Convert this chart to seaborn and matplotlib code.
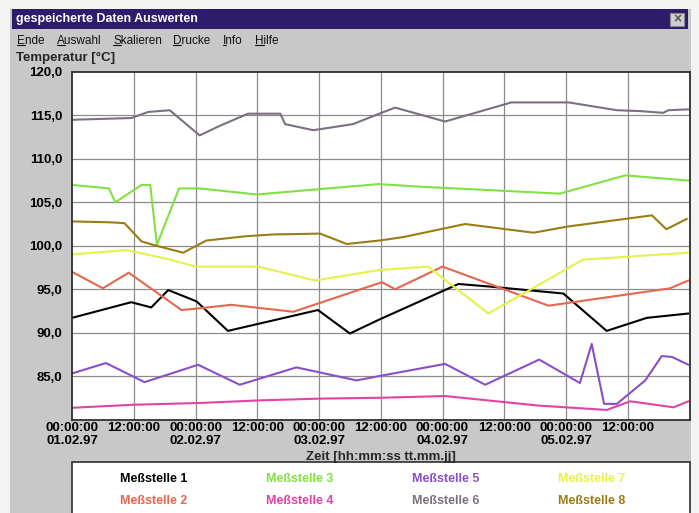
import numpy as np
import pandas as pd
import matplotlib
matplotlib.use("Agg")
import matplotlib.pyplot as plt
import seaborn as sns
from matplotlib.patches import Rectangle
from matplotlib.lines import Line2D

# ---- data (hours since 01.02.97 00:00, temperature in °C) ----
m1_h = [0, 11.5, 15.4, 18.7, 24.2, 30.3, 47.8, 54.0, 59.7, 75.1, 81.2, 95.5, 103.9, 111.7, 119.8]
m1_t = [91.7, 93.5, 92.9, 94.9, 93.6, 90.2, 92.6, 89.9, 91.5, 95.6, 95.3, 94.5, 90.2, 91.7, 92.2]

m2_h = [0, 6.0, 11.0, 21.3, 24.8, 31.0, 43.0, 60.2, 62.8, 72.0, 92.6, 116.2, 119.8]
m2_t = [97.0, 95.1, 96.9, 92.6, 92.8, 93.2, 92.4, 95.8, 95.0, 97.6, 93.1, 95.1, 96.0]

m3_h = [0, 7.2, 8.4, 13.5, 15.2, 16.5, 20.8, 24.8, 35.9, 59.6, 67.6, 94.8, 107.5, 119.8]
m3_t = [107.0, 106.6, 105.0, 107.0, 107.0, 100.1, 106.6, 106.6, 105.9, 107.1, 106.8, 106.0, 108.1, 107.5]

m4_h = [0, 12.0, 24.8, 36.4, 48.0, 59.7, 72.5, 90.7, 103.9, 108.5, 116.9, 119.8]
m4_t = [81.35, 81.7, 81.9, 82.2, 82.4, 82.5, 82.7, 81.6, 81.1, 82.1, 81.4, 82.1]

m5_h = [0, 6.6, 14.1, 24.5, 32.6, 43.6, 55.3, 59.7, 72.5, 80.3, 90.8, 98.7, 101.0, 103.4, 105.9, 111.4, 114.6, 116.6, 119.8]
m5_t = [85.3, 86.5, 84.3, 86.3, 84.0, 86.0, 84.5, 85.0, 86.4, 84.0, 86.9, 84.2, 88.7, 81.8, 81.8, 84.5, 87.3, 87.2, 86.3]

m6_h = [0, 11.5, 14.8, 19.0, 24.8, 28.7, 34.2, 40.5, 41.4, 46.9, 54.6, 59.7, 62.8, 72.5, 85.4, 96.5, 105.9, 110.4, 114.9, 115.9, 119.8]
m6_t = [114.5, 114.7, 115.4, 115.6, 112.7, 113.8, 115.2, 115.2, 114.0, 113.3, 114.0, 115.2, 115.9, 114.3, 116.5, 116.5, 115.6, 115.5, 115.3, 115.6, 115.7]

m7_h = [0, 10.6, 18.4, 24.1, 36.2, 47.2, 59.7, 69.2, 80.9, 99.3, 119.8]
m7_t = [99.0, 99.5, 98.5, 97.6, 97.6, 96.0, 97.2, 97.6, 92.2, 98.4, 99.2]

m8_h = [0, 7.3, 10.2, 13.5, 16.4, 21.6, 26.1, 33.9, 39.1, 48.2, 53.4, 59.7, 64.4, 76.4, 89.7, 96.2, 112.7, 115.5, 119.5]
m8_t = [102.8, 102.7, 102.6, 100.5, 100.0, 99.2, 100.6, 101.1, 101.3, 101.4, 100.2, 100.6, 101.0, 102.5, 101.5, 102.2, 103.5, 101.9, 103.1]

names = ["Meßstelle 1", "Meßstelle 2", "Meßstelle 3", "Meßstelle 4",
         "Meßstelle 5", "Meßstelle 6", "Meßstelle 7", "Meßstelle 8"]
colors = ["#000000", "#e8654f", "#82e044", "#e044a2",
          "#8a4fc8", "#7a7080", "#e4f24a", "#9c7c12"]

y_ticks = [80, 85, 90, 95, 100, 105, 110, 115, 120]
x_ticks = [0, 12, 24, 36, 48, 60, 72, 84, 96, 108]
x_labels = ["00:00:00\n01.02.97", "12:00:00", "00:00:00\n02.02.97", "12:00:00",
            "00:00:00\n03.02.97", "12:00:00", "00:00:00\n04.02.97", "12:00:00",
            "00:00:00\n05.02.97", "12:00:00"]
menu = ["Ende", "Auswahl", "Skalieren", "Drucke", "Info", "Hilfe"]

# long form table for seaborn
series = [(m1_h, m1_t), (m2_h, m2_t), (m3_h, m3_t), (m4_h, m4_t),
          (m5_h, m5_t), (m6_h, m6_t), (m7_h, m7_t), (m8_h, m8_t)]
frames = []
for name, (h, t) in zip(names, series):
    frames.append(pd.DataFrame({"Stunde": h, "Temperatur": t, "Messstelle": name}))
df = pd.concat(frames, ignore_index=True)

sns.set_style("white")
plt.rcParams['font.family'] = ['Liberation Sans', 'DejaVu Sans']

W, H = 699, 513
fig = plt.figure(figsize=(W / 100, H / 100), dpi=100)
fig.patch.set_facecolor("#f3f3f1")


def fx(px):
    return px / W


def fy(py):
    return 1 - py / H


# window body, title bar, close button (drawn below the axes)
fig.add_artist(Rectangle((fx(10), 0), fx(681), fy(9), transform=fig.transFigure,
                         facecolor="#c8c8c8", edgecolor="none", zorder=-3))
fig.add_artist(Rectangle((fx(12), fy(29)), fx(676), 20 / H, transform=fig.transFigure,
                         facecolor="#2c1c6a", edgecolor="none", zorder=-2))
fig.text(fx(16), fy(19), "gespeicherte Daten Auswerten", color="white",
         fontsize=9, fontweight="bold", va="center", ha="left")
fig.add_artist(Rectangle((fx(670), fy(26)), fx(14), 13 / H, transform=fig.transFigure,
                         facecolor="#cfcfcf", edgecolor="#8a8a8a", lw=0.8, zorder=-1))
fig.text(fx(677), fy(19.5), "×", color="#555555", fontsize=10, fontweight="bold",
         ha="center", va="center")

# menu bar with underlined first letters
menu_x = [17, 57, 113, 173, 223, 255]
renderer = fig.canvas.get_renderer()
for label, mx in zip(menu, menu_x):
    txt = fig.text(fx(mx), fy(41), label, fontsize=8.5, ha="left", va="center", color="#111111")
    bb = txt.get_window_extent(renderer)
    first = fig.text(fx(mx), fy(41), label[0], fontsize=8.5, ha="left", va="center")
    w = first.get_window_extent(renderer).width
    first.remove()
    yline = bb.y0 + 2
    p0 = fig.transFigure.inverted().transform((bb.x0, yline))
    p1 = fig.transFigure.inverted().transform((bb.x0 + w, yline))
    fig.add_artist(Line2D([p0[0], p1[0]], [p0[1], p1[1]], transform=fig.transFigure,
                          color="#111111", lw=0.8))

# legend box
fig.add_artist(Rectangle((fx(72), -0.05), fx(617.5), fy(462) + 0.05, transform=fig.transFigure,
                         facecolor="white", edgecolor="#303030", lw=1.2, zorder=-1))

# plot area
ax = fig.add_axes([fx(72), fy(419.5), fx(617.5), (419.5 - 72) / H])
ax.set_facecolor("white")
sns.lineplot(data=df, x="Stunde", y="Temperatur", hue="Messstelle",
             palette=dict(zip(names, colors)), hue_order=names,
             estimator=None, linewidth=1.5, ax=ax)

ax.set_xlim(0, 120)
ax.set_ylim(80, 120)
ax.set_xticks(x_ticks)
ax.set_xticklabels(x_labels, fontsize=9.5, fontweight="bold", linespacing=1.1)
ax.set_yticks(y_ticks[1:])
ax.set_yticklabels([f"{v:.1f}".replace(".", ",") for v in y_ticks[1:]],
                   fontsize=9.5, fontweight="bold")
ax.tick_params(axis="both", length=0, colors="black")
ax.tick_params(axis="x", pad=2)
ax.tick_params(axis="y", pad=7)

for v in range(12, 120, 12):
    ax.axvline(v, color="#8c8c8c", lw=0.9, zorder=0)
for v in y_ticks[1:-1]:
    ax.axhline(v, color="#8c8c8c", lw=0.9, zorder=0)

for s in ax.spines.values():
    s.set_color("#303030")
    s.set_linewidth(1.3)

ax.set_xlabel("Zeit [hh:mm:ss tt.mm.jj]", fontsize=9.5, fontweight="bold", labelpad=3)
ax.set_ylabel("Temperatur [°C]", fontsize=9.5, fontweight="bold", rotation=0,
              ha="left", va="center")
ax.yaxis.set_label_coords((16 - 72) / 617.5, 1 + (72 - 58) / 347.5)

sns.move_legend(ax, loc="upper left", bbox_to_anchor=(fx(120), fy(473)),
                bbox_transform=fig.transFigure, ncol=4, frameon=False, title=None,
                handlelength=0, handletextpad=0, columnspacing=6.3, labelspacing=0.8,
                borderpad=0, borderaxespad=0, labelcolor="linecolor",
                prop={"weight": "bold", "size": 9})

fig.savefig("out.png", dpi=100, facecolor=fig.get_facecolor())
